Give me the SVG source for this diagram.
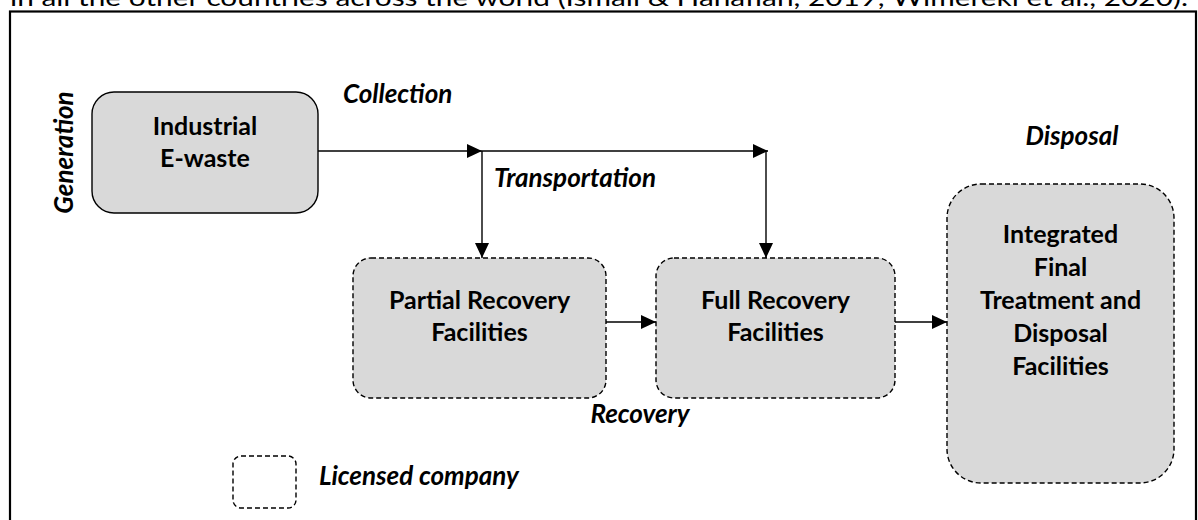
<svg xmlns="http://www.w3.org/2000/svg" width="1198" height="520" viewBox="0 0 1198 520">
  <style>
    .box { fill: #d9d9d9; stroke: #000; stroke-width: 1.4; }
    .dash { stroke-dasharray: 5 3; }
    .label { font-family: Lato, "Liberation Sans", sans-serif; font-size: 25px; font-weight: bold; fill: #000; text-anchor: middle; }
    .stage { font-family: Lato, "Liberation Sans", sans-serif; font-size: 26px; font-weight: bold; font-style: italic; fill: #000; }
    .body { font-family: Lato, "Liberation Sans", sans-serif; font-size: 24px; fill: #000; }
    .conn { fill: none; stroke: #000; stroke-width: 1.4; marker-end: url(#arrow); }
  </style>
  <defs>
    <marker id="arrow" markerUnits="userSpaceOnUse" markerWidth="15" markerHeight="14" refX="15" refY="7" orient="auto">
      <path d="M0,0 L15,7 L0,14 Z" fill="#000"/>
    </marker>
  </defs>

  <rect width="1198" height="520" fill="#fff"/>

  <!-- running text line above the figure frame -->
  <text class="body" x="10" y="6" textLength="1178" lengthAdjust="spacingAndGlyphs">in all the other countries across the world (Ismail &amp; Hanafiah, 2019; Wimereki et al., 2020).</text>

  <!-- figure frame -->
  <rect x="10" y="11.5" width="1186" height="530" fill="none" stroke="#000" stroke-width="2.2"/>

  <!-- stage labels -->
  <g id="stage-labels">
    <text class="stage" text-anchor="middle" transform="translate(73,152.5) rotate(-90)">Generation</text>
    <text class="stage" x="343" y="103">Collection</text>
    <text class="stage" x="494" y="187">Transportation</text>
    <text class="stage" x="1072" y="145" text-anchor="middle">Disposal</text>
    <text class="stage" x="640" y="423" text-anchor="middle">Recovery</text>
  </g>

  <g id="industrial-ewaste">
    <rect class="box" x="92" y="92" width="226" height="121" rx="22"/>
    <text class="label" x="205" y="135">Industrial</text>
    <text class="label" x="205" y="167">E-waste</text>
  </g>

  <g id="partial-recovery">
    <rect class="box dash" x="353" y="258" width="253" height="140" rx="18"/>
    <text class="label" x="479.5" y="309">Partial Recovery</text>
    <text class="label" x="479.5" y="341">Facilities</text>
  </g>

  <g id="full-recovery">
    <rect class="box dash" x="656" y="258" width="239" height="140" rx="18"/>
    <text class="label" x="775.5" y="309">Full Recovery</text>
    <text class="label" x="775.5" y="341">Facilities</text>
  </g>

  <g id="integrated-disposal">
    <rect class="box dash" x="947" y="184" width="227" height="299" rx="34"/>
    <text class="label" x="1060.5" y="243">Integrated</text>
    <text class="label" x="1060.5" y="276">Final</text>
    <text class="label" x="1060.5" y="309">Treatment and</text>
    <text class="label" x="1060.5" y="342">Disposal</text>
    <text class="label" x="1060.5" y="375">Facilities</text>
  </g>

  <g id="legend">
    <rect x="233" y="456" width="63" height="52" rx="8" fill="none" stroke="#000" stroke-width="1.4" class="dash"/>
    <text class="stage" x="319" y="485">Licensed company</text>
  </g>

  <g id="connectors">
    <path class="conn" d="M318,151 H482"/>
    <path class="conn" d="M482,151 H768"/>
    <path class="conn" d="M482,151 V258"/>
    <path class="conn" d="M766,151 V258"/>
    <path class="conn" d="M606,322 H656"/>
    <path class="conn" d="M895,322 H947"/>
  </g>
</svg>
